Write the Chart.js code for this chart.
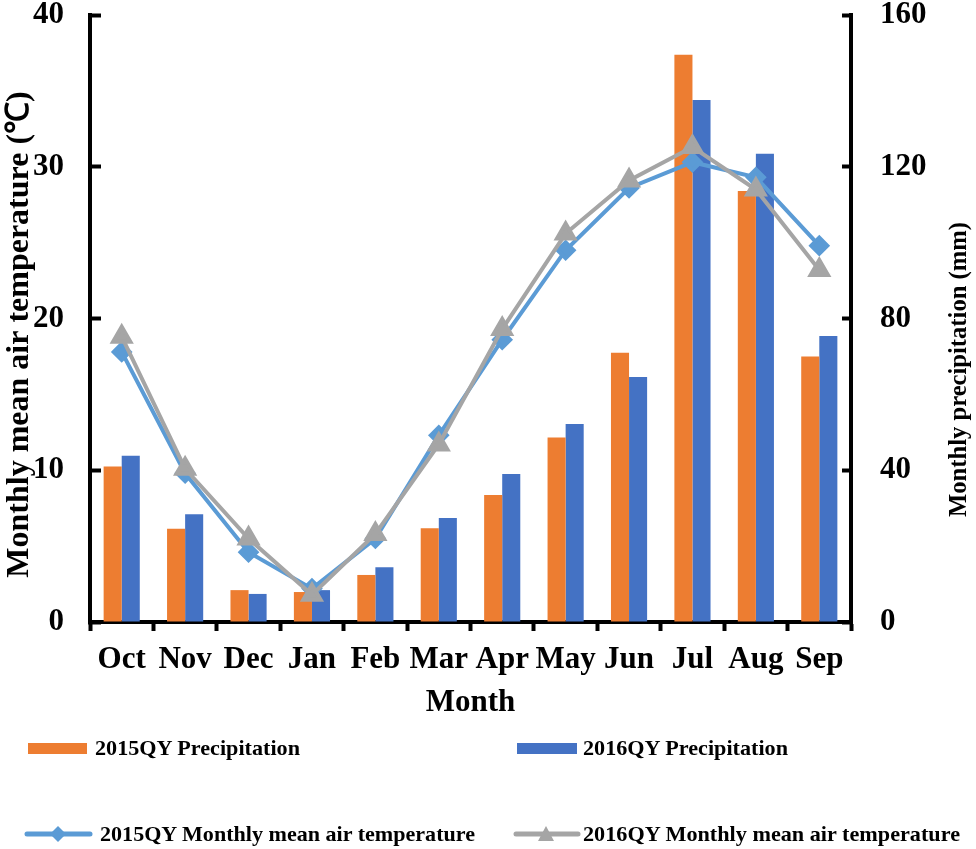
<!DOCTYPE html>
<html>
<head>
<meta charset="utf-8">
<script src="https://cdn.jsdelivr.net/npm/chart.js@4"></script>
<style>
html,body{margin:0;padding:0;background:#fff;overflow:hidden}
#wrap{position:relative;width:976px;height:849px}
canvas{position:absolute;left:0;top:0}
#legend{position:absolute;left:0;top:0;width:976px;height:849px;pointer-events:none}
#legend text{font-family:"Liberation Serif",serif;font-weight:bold;font-size:22px;fill:#000}
#legend text.ax{font-size:26px}
</style>
</head>
<body>
<div id="wrap">
<canvas id="c" width="976" height="849"></canvas>
<svg id="legend" viewBox="0 0 976 849">
  <text class="ax" transform="translate(966,517) rotate(-90)" textLength="295" lengthAdjust="spacingAndGlyphs">Monthly precipitation (mm)</text>
  <rect x="28" y="743" width="59" height="11" fill="#ED7D31"/>
  <text x="95" y="755" textLength="205" lengthAdjust="spacingAndGlyphs">2015QY Precipitation</text>
  <rect x="517" y="743" width="60" height="11" fill="#4472C4"/>
  <text x="583" y="755" textLength="205" lengthAdjust="spacingAndGlyphs">2016QY Precipitation</text>
  <line x1="27" y1="834" x2="90" y2="834" stroke="#5B9BD5" stroke-width="5" stroke-linecap="round"/>
  <polygon points="58,826 66,834 58,842 50,834" fill="#5B9BD5"/>
  <text x="100" y="841" textLength="375" lengthAdjust="spacingAndGlyphs">2015QY Monthly mean air temperature</text>
  <line x1="516" y1="834" x2="578" y2="834" stroke="#A5A5A5" stroke-width="5" stroke-linecap="round"/>
  <polygon points="546,826 554,841 538,841" fill="#A5A5A5"/>
  <text x="583" y="841" textLength="377" lengthAdjust="spacingAndGlyphs">2016QY Monthly mean air temperature</text>
</svg>
</div>
<script>
const months = ["Oct","Nov","Dec","Jan","Feb","Mar","Apr","May","Jun","Jul","Aug","Sep"];
const precip2015 = [41, 24.6, 8.4, 7.9, 12.4, 24.7, 33.5, 48.6, 71, 149.5, 113.6, 70];
const precip2016 = [43.8, 28.4, 7.4, 8.4, 14.4, 27.4, 39, 52.2, 64.6, 137.6, 123.4, 75.4];
const temp2015 = [17.8, 9.8, 4.6, 2.2, 5.5, 12.3, 18.6, 24.5, 28.6, 30.3, 29.3, 24.8];
const temp2016 = [18.8, 10.1, 5.5, 1.8, 5.8, 11.7, 19.3, 25.6, 29.1, 31.3, 28.5, 23.2];
const leftTicks = [0,10,20,30,40];
const rightTicks = [0,40,80,120,160];

const serif = "'Liberation Serif', serif";
const nb = "\u00A0";

new Chart(document.getElementById("c"), {
  data: {
    labels: months,
    datasets: [
      {type:"line", label:"2016QY Monthly mean air temperature", data:temp2016, yAxisID:"yT", order:1,
       borderColor:"#A5A5A5", backgroundColor:"#A5A5A5", borderWidth:4, pointStyle:"triangle", pointRadius:10, tension:0},
      {type:"line", label:"2015QY Monthly mean air temperature", data:temp2015, yAxisID:"yT", order:2,
       borderColor:"#5B9BD5", backgroundColor:"#5B9BD5", borderWidth:4, pointStyle:"rectRot", pointRadius:8, tension:0},
      {type:"bar", label:"2015QY Precipitation", data:precip2015, yAxisID:"yP", order:3,
       backgroundColor:"#ED7D31", categoryPercentage:0.57, barPercentage:1},
      {type:"bar", label:"2016QY Precipitation", data:precip2016, yAxisID:"yP", order:4,
       backgroundColor:"#4472C4", categoryPercentage:0.57, barPercentage:1}
    ]
  },
  options: {
    responsive:false, animation:false, devicePixelRatio:1,
    layout:{padding:{top:15,left:0,right:0,bottom:0}},
    plugins:{legend:{display:false},title:{display:false},tooltip:{enabled:false}},
    scales:{
      x:{
        position:"bottom",
        grid:{drawOnChartArea:false,tickLength:9,tickWidth:4,tickColor:"#000"},
        border:{width:4,color:"#000"},
        ticks:{color:"#000",font:{family:serif,weight:"bold",size:31},padding:10,maxRotation:0,autoSkip:false},
        title:{display:true,text:"Month",color:"#000",font:{family:serif,weight:"bold",size:31},padding:{top:0,bottom:127}},
        afterFit(s){s.height=227;s.paddingLeft=0;s.paddingRight=0;}
      },
      yT:{
        position:"left",min:0,max:40,
        afterBuildTicks(s){s.ticks=leftTicks.map(v=>({value:v}));},
        grid:{drawOnChartArea:false,tickLength:-11,tickWidth:4,tickColor:"#000"},
        border:{width:4,color:"#000"},
        ticks:{color:"#000",font:{family:serif,weight:"bold",size:31},padding:37},
        title:{display:true,text:"Monthly mean air temperature (℃)"+nb.repeat(4),color:"#000",font:{family:serif,weight:"bold",size:32},padding:{top:1,bottom:0}},
        afterFit(s){s.width=90;s.paddingTop=0;s.paddingBottom=0;}
      },
      yP:{
        position:"right",min:0,max:160,
        afterBuildTicks(s){s.ticks=rightTicks.map(v=>({value:v}));},
        grid:{drawOnChartArea:false,tickLength:-9,tickWidth:4,tickColor:"#000"},
        border:{width:4,color:"#000"},
        ticks:{color:"#000",font:{family:serif,weight:"bold",size:31},padding:38},
        title:{display:false},
        afterFit(s){s.width=125;s.paddingTop=0;s.paddingBottom=0;}
      }
    }
  }
});
</script>
</body>
</html>
